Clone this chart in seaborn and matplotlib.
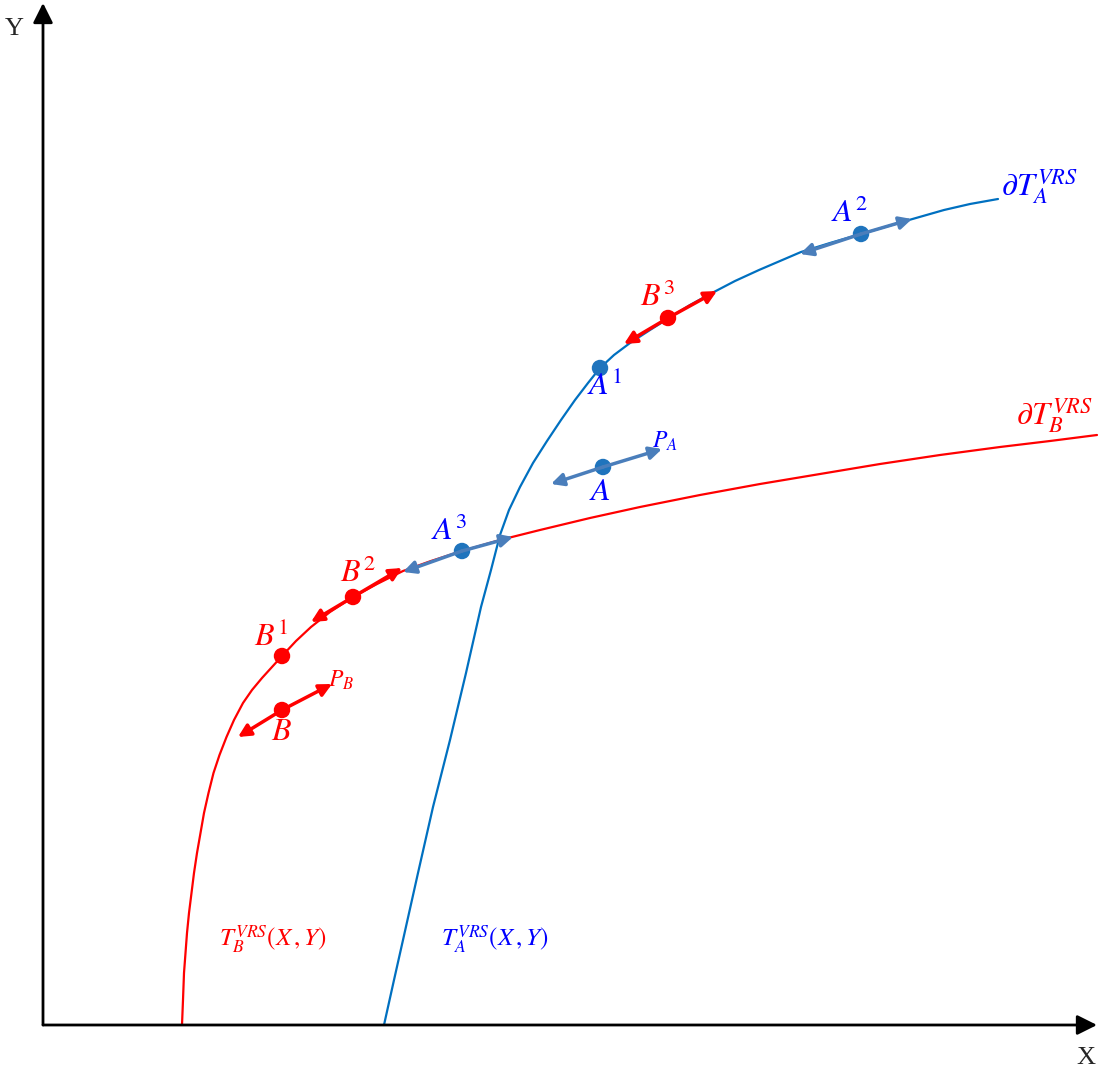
import numpy as np
import pandas as pd
import matplotlib
matplotlib.use("Agg")
import matplotlib.pyplot as plt
import seaborn as sns

# ------------------------------------------
# DATA (diagram units, origin at axes corner)
# ------------------------------------------
# frontier of technology B (red)
frontier_b_x = [139, 140, 141, 142.5, 144, 146, 148.5, 151, 154, 157.5, 161, 165.5, 170.5,
                176.5, 183.5, 191, 200, 209, 219, 229, 239, 253, 268, 287, 310, 334, 360,
                388, 419, 457, 497, 547, 597, 657, 717, 777, 837, 897, 957, 1007, 1054]
frontier_b_y = [0, 25, 52, 72, 92, 112, 132, 152, 172, 192, 212, 232, 252,
                270, 288, 305, 322, 335, 347, 358, 369, 384, 398, 413, 428, 441, 454,
                464, 474, 485, 495, 507, 518, 530, 541, 551, 561, 570, 578, 584, 590]

# frontier of technology A (blue)
frontier_a_x = [341, 351, 360, 375, 390, 407, 423, 438, 448, 457, 466, 477, 490, 504, 518,
                532, 545, 557, 571, 587, 607, 626, 647, 669, 692, 716, 737, 758, 787, 818,
                842, 866, 901, 927, 955]
frontier_a_y = [0, 45, 85, 152, 218, 285, 352, 418, 455, 490, 515, 538, 562, 584, 605,
                625, 642, 657, 670, 682, 695, 707, 720, 732, 744, 755, 764, 773, 782, 791,
                798, 805, 815, 821, 826]

# observed / projected units
point_names = ["A", "A1", "A2", "A3", "B", "B1", "B2", "B3"]
point_x = [560, 557, 818, 419, 239, 239, 310, 625]
point_y = [558, 657, 791, 474, 315, 369, 428, 707]
point_group = ["A", "A", "A", "A", "B", "B", "B", "B"]

# direction arrows: start point -> forward tip, backward tip
arrow_from = ["A", "A3", "A2", "B3", "B2", "B"]
arrow_fwd_x = [619, 470, 869, 674, 359, 289]
arrow_fwd_y = [576, 488, 806, 734, 457, 341]
arrow_back_x = [508, 360, 757, 581, 268, 195]
arrow_back_y = [541, 453, 771, 681, 403, 288]

# ------------------------------------------
# STYLE
# ------------------------------------------
sns.set_style("white")
plt.rcParams["mathtext.fontset"] = "stix"
plt.rcParams["font.family"] = ["Liberation Serif", "DejaVu Serif"]

RED = "#FF0000"
CURVE_BLUE = "#0070C0"
DOT_BLUE = "#1F74BD"
ARROW_BLUE = "#4A7EBB"
TEXT_BLUE = "#0000FF"

fig = plt.figure(figsize=(11.01, 10.73), dpi=100)
ax = fig.add_axes([0, 0, 1, 1])
ax.set_xlim(-43, 1058)
ax.set_ylim(-48, 1025)
ax.axis("off")

# ------------------------------------------
# AXES WITH ARROWS
# ------------------------------------------
axis_style = dict(arrowstyle="-|>,head_length=0.6,head_width=0.3", color="black",
                  lw=2.0, mutation_scale=20, shrinkA=0, shrinkB=0)
ax.annotate("", xy=(0, 1022), xytext=(0, 0), arrowprops=axis_style)
ax.annotate("", xy=(1054, 0), xytext=(0, 0), arrowprops=axis_style)
ax.text(-29, 996, "Y", fontsize=19, ha="center", va="center")
ax.text(1043, -33, "X", fontsize=19, ha="center", va="center")

# ------------------------------------------
# FRONTIERS
# ------------------------------------------
sns.lineplot(x=frontier_b_x, y=frontier_b_y, sort=False, estimator=None,
             color=RED, lw=1.6, ax=ax)
sns.lineplot(x=frontier_a_x, y=frontier_a_y, sort=False, estimator=None,
             color=CURVE_BLUE, lw=1.6, ax=ax)

# ------------------------------------------
# POINTS
# ------------------------------------------
pts = pd.DataFrame({"name": point_names, "x": point_x, "y": point_y, "group": point_group})
sns.scatterplot(data=pts, x="x", y="y", hue="group", palette={"A": DOT_BLUE, "B": RED},
                s=140, linewidth=0, legend=False, zorder=3, ax=ax)

# ------------------------------------------
# ARROWS
# ------------------------------------------
lookup = pts.set_index("name")
for name, fx, fy, bx, by in zip(arrow_from, arrow_fwd_x, arrow_fwd_y, arrow_back_x, arrow_back_y):
    x0, y0 = lookup.loc[name, "x"], lookup.loc[name, "y"]
    col = ARROW_BLUE if lookup.loc[name, "group"] == "A" else RED
    style = dict(arrowstyle="-|>,head_length=0.5,head_width=0.25", color=col,
                 lw=2.5, mutation_scale=15, shrinkA=0, shrinkB=0)
    ax.annotate("", xy=(fx, fy), xytext=(x0, y0), arrowprops=style, zorder=4)
    ax.annotate("", xy=(bx, by), xytext=(x0, y0), arrowprops=style, zorder=4)

# ------------------------------------------
# LABELS
# ------------------------------------------
big = 23
ax.text(807, 811, r"$A^{2}$", color=TEXT_BLUE, fontsize=big, ha="center", va="center")
ax.text(614, 727, r"$B^{3}$", color=RED, fontsize=big, ha="center", va="center")
ax.text(562, 639, r"$A^{1}$", color=TEXT_BLUE, fontsize=big, ha="center", va="center")
ax.text(557, 533, r"$A$", color=TEXT_BLUE, fontsize=big, ha="center", va="center")
ax.text(622, 584, r"$P_{A}$", color=TEXT_BLUE, fontsize=17, ha="center", va="center")
ax.text(406, 493, r"$A^{3}$", color=TEXT_BLUE, fontsize=big, ha="center", va="center")
ax.text(315, 451, r"$B^{2}$", color=RED, fontsize=big, ha="center", va="center")
ax.text(228, 388, r"$B^{1}$", color=RED, fontsize=big, ha="center", va="center")
ax.text(298, 345, r"$P_{B}$", color=RED, fontsize=17, ha="center", va="center")
ax.text(239, 293, r"$B$", color=RED, fontsize=big, ha="center", va="center")
ax.text(997, 838, r"$\partial T_{A}^{VRS}$", color=TEXT_BLUE, fontsize=big, ha="center", va="center")
ax.text(1012, 609, r"$\partial T_{B}^{VRS}$", color=RED, fontsize=big, ha="center", va="center")
ax.text(230, 85, r"$T_{B}^{VRS}(X\,,Y)$", color=RED, fontsize=18, ha="center", va="center")
ax.text(452, 85, r"$T_{A}^{VRS}(X\,,Y)$", color=TEXT_BLUE, fontsize=18, ha="center", va="center")

plt.savefig("out.png", dpi=100)
